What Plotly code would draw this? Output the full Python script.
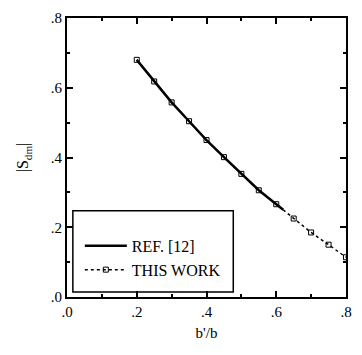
import plotly.graph_objects as go

# Data
this_x = [0.20, 0.25, 0.30, 0.35, 0.40, 0.45, 0.50, 0.55, 0.60, 0.65, 0.70, 0.75, 0.80]
this_y = [0.680, 0.618, 0.558, 0.504, 0.450, 0.401, 0.353, 0.306, 0.266, 0.225, 0.185, 0.150, 0.114]
ref_x = [0.20, 0.25, 0.30, 0.35, 0.40, 0.45, 0.50, 0.55, 0.60, 0.62]
ref_y = [0.680, 0.618, 0.558, 0.504, 0.450, 0.401, 0.353, 0.306, 0.266, 0.250]
tick_vals = [0.0, 0.2, 0.4, 0.6, 0.8]
tick_text = [".0", ".2", ".4", ".6", ".8"]

FONT = "Liberation Serif"

fig = go.Figure()
fig.add_trace(go.Scatter(x=ref_x, y=ref_y, mode="lines", name="REF. [12]",
                         line=dict(color="black", width=2.5)))
fig.add_trace(go.Scatter(x=this_x, y=this_y, mode="lines+markers", name="THIS WORK",
                         line=dict(color="black", width=1.5, dash="dot"),
                         marker=dict(symbol="square-open", size=5, color="black",
                                     line=dict(width=1, color="black"))))

axis_common = dict(range=[0, 0.8], tickvals=tick_vals, ticktext=tick_text,
                   ticks="inside", ticklen=6, tickwidth=1.5, tickcolor="black",
                   showline=True, linecolor="black", linewidth=2, mirror="ticks",
                   showgrid=False, zeroline=False,
                   tickfont=dict(family=FONT, size=15, color="black"),
                   minor=dict(ticks="inside", ticklen=3, tickcolor="black",
                              dtick=0.1, showgrid=False))

fig.update_xaxes(**axis_common,
                 title=dict(text="b'/b", font=dict(family=FONT, size=15, color="black"),
                            standoff=8))
fig.update_yaxes(**axis_common,
                 title=dict(text="|S<sub>dm</sub>|",
                            font=dict(family=FONT, size=16, color="black"),
                            standoff=18))

# legend frame
fig.add_shape(type="rect", xref="paper", yref="paper",
              x0=0.021, x1=0.596, y0=0.018, y1=0.309,
              line=dict(color="black", width=1.5), fillcolor="rgba(0,0,0,0)")

fig.update_layout(
    width=362, height=355,
    margin=dict(l=67, r=10, t=15, b=58),
    paper_bgcolor="white", plot_bgcolor="white",
    showlegend=True,
    legend=dict(x=0.046, y=0.036, xanchor="left", yanchor="bottom",
                borderwidth=0, bgcolor="rgba(0,0,0,0)",
                font=dict(family=FONT, size=16, color="black"),
                itemwidth=42, tracegroupgap=0),
)

fig.write_html("out.html")
